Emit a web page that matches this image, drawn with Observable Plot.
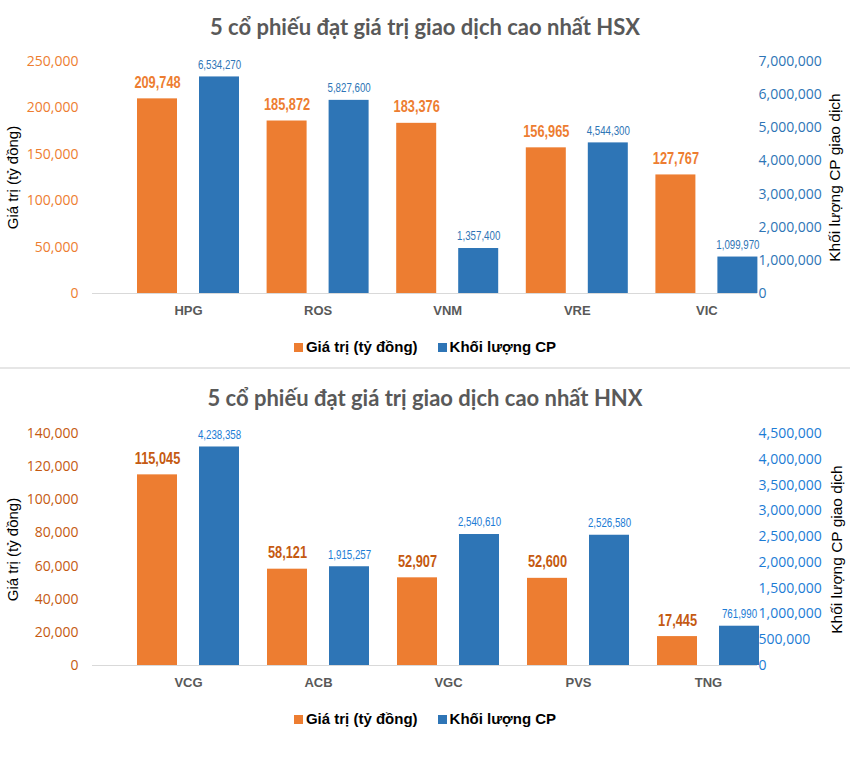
<!DOCTYPE html>
<html>
<head>
<meta charset="utf-8">
<script src="https://cdn.jsdelivr.net/npm/d3@7"></script>
<script src="https://cdn.jsdelivr.net/npm/@observablehq/plot@0.6"></script>
<style>
  html, body { margin: 0; padding: 0; background: #fff; }
  #page { position: relative; width: 850px; height: 772px; overflow: hidden; background: #fff; }
  .panel { position: absolute; left: 0; width: 850px; }
  .title { position: absolute; left: 0; width: 850px; text-align: center; font-family: Lato, "Open Sans", sans-serif; font-weight: 700; font-size: 22px; color: #595959; line-height: 26px; }
  .legend { position: absolute; left: 0; width: 850px; display: flex; justify-content: center; align-items: center; font-family: "Liberation Sans", Arial, sans-serif; font-weight: 700; font-size: 15px; color: #000; line-height: 18px; }
  .legend .item { display: flex; align-items: center; margin: 0 10px; }
  .legend .sw { width: 9px; height: 9px; margin-right: 3px; display: inline-block; }
  .sep { position: absolute; left: 0; width: 850px; height: 2px; background: #e6e6e6; }
</style>
</head>
<body>
<div id="page"></div>
<script>
// ---------- data ----------
const hsxCategories = ["HPG", "ROS", "VNM", "VRE", "VIC"];
const hsxValue = [209748, 185872, 183376, 156965, 127767];      // Giá trị (tỷ đồng)
const hsxVolume = [6534270, 5827600, 1357400, 4544300, 1099970]; // Khối lượng CP
const hsxLeftTicks = [0, 50000, 100000, 150000, 200000, 250000];
const hsxRightTicks = [0, 1000000, 2000000, 3000000, 4000000, 5000000, 6000000, 7000000];

const hnxCategories = ["VCG", "ACB", "VGC", "PVS", "TNG"];
const hnxValue = [115045, 58121, 52907, 52600, 17445];
const hnxVolume = [4238358, 1915257, 2540610, 2526580, 761990];
const hnxLeftTicks = [0, 20000, 40000, 60000, 80000, 100000, 120000, 140000];
const hnxRightTicks = [0, 500000, 1000000, 1500000, 2000000, 2500000, 3000000, 3500000, 4000000, 4500000];

const titles = ["5 cổ phiếu đạt giá trị giao dịch cao nhất HSX", "5 cổ phiếu đạt giá trị giao dịch cao nhất HNX"];
const seriesNames = ["Giá trị (tỷ đồng)", "Khối lượng CP"];
const leftAxisTitle = "Giá trị (tỷ đồng)";
const rightAxisTitle = "Khối lượng CP giao dịch";

const ORANGE = "#ED7D31", BLUE = "#2E75B6";
const fmt = d3.format(",");
const SANS = "'Liberation Sans', Arial, sans-serif";

function panel(cfg) {
  const rows = cfg.cats.map((c, i) => ({cat: c, value: cfg.value[i], volume: cfg.volume[i]}));
  const leftMax = cfg.leftTicks[cfg.leftTicks.length - 1];
  const rightMax = cfg.rightTicks[cfg.rightTicks.length - 1];
  const k = leftMax / rightMax;
  const bw = 40, step = cfg.step;
  const pin = 1 - bw / step;
  const svg = Plot.plot({
    width: 850,
    height: cfg.height,
    marginLeft: 92,
    marginRight: 93,
    marginTop: cfg.marginTop,
    marginBottom: cfg.marginBottom,
    style: {fontFamily: "'Open Sans', sans-serif", background: "transparent", overflow: "visible"},
    x: {type: "band", domain: cfg.cats, range: [cfg.firstCenter - step / 2, cfg.firstCenter - step / 2 + 5 * step], paddingInner: pin, paddingOuter: pin / 2, round: false, axis: null},
    y: {domain: [0, leftMax], axis: null},
    marks: [
      Plot.ruleY([0], {stroke: "#d9d9d9", strokeWidth: 1.2}),
      Plot.barY(rows, {x: "cat", y: "value", dx: -31, fill: ORANGE}),
      Plot.barY(rows, {x: "cat", y: d => d.volume * k, dx: 31, fill: BLUE}),
      Plot.text(rows, {x: "cat", y: "value", text: d => fmt(d.value), dx: -31, dy: -16, fill: cfg.orangeLabel, fontSize: 16, fontWeight: 700, fontFamily: SANS}),
      Plot.text(rows, {x: "cat", y: d => d.volume * k, text: d => fmt(d.volume), dx: 31, dy: -12, fill: cfg.blueLabel, fontSize: 12, fontFamily: SANS}),
      Plot.axisY(cfg.leftTicks, {anchor: "left", label: null, tickSize: 0, tickPadding: 14, tickFormat: fmt, fill: cfg.leftTickColor, fontSize: 14, fontFamily: "'Open Sans', sans-serif"}),
      Plot.text(cfg.rightTicks, {y: d => d * k, text: d => fmt(d), frameAnchor: "right", textAnchor: "start", dx: 1, fill: cfg.rightTickColor, fontSize: 14, fontFamily: "'Open Sans', sans-serif"}),
      Plot.text(cfg.cats, {x: d => d, frameAnchor: "bottom", dy: 21, fill: "#595959", fontSize: 13, fontWeight: 700, fontFamily: SANS}),
      Plot.text([leftAxisTitle], {frameAnchor: "left", textAnchor: "middle", rotate: -90, dx: -79, fill: "#000", fontSize: 15, fontFamily: SANS}),
      Plot.text([rightAxisTitle], {frameAnchor: "right", textAnchor: "middle", rotate: -90, dx: cfg.rightTitleDx, fill: "#000", fontSize: 15.5, fontFamily: SANS})
    ]
  });
  // condense the data labels horizontally (narrow font look)
  svg.querySelectorAll("g").forEach(g => {
    const fs = g.getAttribute("font-size");
    const fw = g.getAttribute("font-weight");
    const isOrange = fs === "16" && fw === "700";
    const isBlue = fs === "12";
    if (!isOrange && !isBlue) return;
    g.querySelectorAll("text").forEach(el => {
      const t = el.getAttribute("transform") || "";
      el.setAttribute("transform", t + (isOrange ? " scale(0.8,1)" : " scale(0.81,1)"));
    });
  });
  return svg;
}

const page = document.getElementById("page");

function addPanel(top, cfg, titleText, titleY, legendY) {
  const wrap = document.createElement("div");
  wrap.className = "panel";
  wrap.style.top = top + "px";
  wrap.appendChild(panel(cfg));
  page.appendChild(wrap);
  const t = document.createElement("div");
  t.className = "title";
  t.style.top = (titleY - 13) + "px";
  t.textContent = titleText;
  page.appendChild(t);
  const lg = document.createElement("div");
  lg.className = "legend";
  lg.style.top = (legendY - 9) + "px";
  [ORANGE, BLUE].forEach((c, i) => {
    const it = document.createElement("span");
    it.className = "item";
    const sw = document.createElement("span");
    sw.className = "sw";
    sw.style.background = c;
    it.appendChild(sw);
    it.appendChild(document.createTextNode(seriesNames[i]));
    lg.appendChild(it);
  });
  page.appendChild(lg);
}

addPanel(0, {
  cats: hsxCategories, value: hsxValue, volume: hsxVolume,
  leftTicks: hsxLeftTicks, rightTicks: hsxRightTicks,
  height: 366, marginTop: 61, marginBottom: 73,
  step: 129.6, firstCenter: 188,
  orangeLabel: ORANGE, blueLabel: BLUE,
  leftTickColor: ORANGE, rightTickColor: BLUE, rightTitleDx: 78
}, titles[0], 27, 347);

const sep = document.createElement("div");
sep.className = "sep";
sep.style.top = "367px";
page.appendChild(sep);

addPanel(370, {
  cats: hnxCategories, value: hnxValue, volume: hnxVolume,
  leftTicks: hnxLeftTicks, rightTicks: hnxRightTicks,
  height: 402, marginTop: 63, marginBottom: 107,
  step: 130, firstCenter: 188,
  orangeLabel: "#C55A11", blueLabel: "#1C7CD5",
  leftTickColor: "#C55A11", rightTickColor: "#1C7CD5", rightTitleDx: 80
}, titles[1], 398, 719);
</script>
</body>
</html>
